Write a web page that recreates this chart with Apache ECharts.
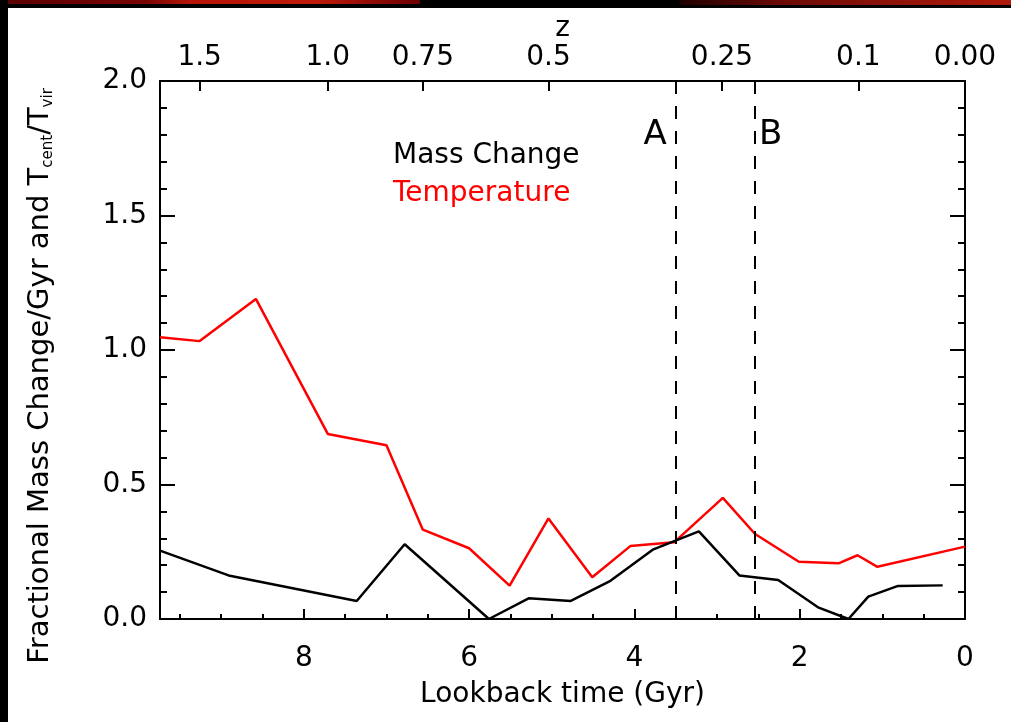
<!DOCTYPE html>
<html>
<head>
<meta charset="utf-8">
<script src="https://cdn.jsdelivr.net/npm/echarts@6/dist/echarts.min.js"></script>
<style>html,body{margin:0;padding:0;background:#fff;}#c{width:1011px;height:722px;}</style>
</head>
<body>
<div id="c"></div>
<script>
// Lookback time (Gyr) and values
const massTime = [9.74, 8.91, 7.36, 6.78, 5.76, 5.28, 4.77, 4.29, 3.77, 3.22, 2.73, 2.26, 1.77, 1.41, 1.17, 0.81, 0.27];
const massVal  = [0.254, 0.162, 0.067, 0.278, 0.0, 0.077, 0.067, 0.142, 0.259, 0.326, 0.162, 0.145, 0.042, 0.0, 0.083, 0.123, 0.125];
const tempTime = [9.74, 9.26, 8.58, 7.71, 7.00, 6.56, 6.00, 5.51, 5.04, 4.51, 4.05, 3.52, 2.93, 2.54, 2.01, 1.53, 1.30, 1.06, 0];
const tempVal  = [1.047, 1.033, 1.19, 0.688, 0.646, 0.332, 0.263, 0.124, 0.374, 0.155, 0.271, 0.285, 0.450, 0.316, 0.213, 0.207, 0.237, 0.194, 0.269];
// Top redshift axis
const zLabels   = ['1.5', '1.0', '0.75', '0.5', '0.25', '0.1', '0.00'];
const zLookback = [9.26, 7.71, 6.56, 5.04, 2.94, 1.29, 0];
// Bottom ticks
const xTicks = [0, 2, 4, 6, 8];
const xMax = 9.74;
// Epoch markers
const markerNames = ['A', 'B'];
const markerTimes = [3.50, 2.54];
const markerLabelY = 1.80;

const FONT = 'DejaVu Sans';
const chart = echarts.init(document.getElementById('c'), null, {renderer: 'canvas'});

const axisLine = {show: true, onZero: false, lineStyle: {color: '#000', width: 2}};

const option = {
  animation: false,
  backgroundColor: '#fff',
  grid: {left: 160, right: 46, top: 81, bottom: 103, containLabel: false},
  legend: {
    orient: 'vertical', left: 383, top: 136, itemWidth: 0, itemHeight: 0, itemGap: 8,
    icon: 'rect', selectedMode: false,
    textStyle: {fontFamily: FONT, fontSize: 28, lineHeight: 30},
    data: [
      {name: 'Mass Change', textStyle: {color: '#000'}},
      {name: 'Temperature', textStyle: {color: '#ff0000'}}
    ]
  },
  xAxis: [
    {
      type: 'value', position: 'bottom', min: 0, max: xMax, interval: 2, inverse: true,
      name: 'Lookback time (Gyr)', nameLocation: 'middle', nameGap: 62,
      nameTextStyle: {fontFamily: FONT, fontSize: 28, color: '#000'},
      axisLine: axisLine,
      axisTick: {show: true, inside: true, length: 10, lineStyle: {color: '#000', width: 2}, customValues: xTicks},
      minorTick: {show: true, splitNumber: 4, length: 5, lineStyle: {color: '#000', width: 2}},
      axisLabel: {fontFamily: FONT, fontSize: 28, color: '#000', margin: 26, customValues: xTicks,
        formatter: v => String(v)},
      splitLine: {show: false}
    },
    {
      type: 'value', position: 'top', min: 0, max: xMax, inverse: true,
      name: 'z', nameLocation: 'middle', nameGap: 38, nameMoveOverlap: false,
      nameTextStyle: {fontFamily: FONT, fontSize: 28, color: '#000'},
      axisLine: axisLine,
      axisTick: {show: true, inside: true, length: 10, lineStyle: {color: '#000', width: 2}, customValues: zLookback},
      axisLabel: {fontFamily: FONT, fontSize: 28, color: '#000', margin: 9, customValues: zLookback,
        formatter: v => {
          const i = zLookback.findIndex(t => Math.abs(t - v) < 1e-6);
          return i >= 0 ? zLabels[i] : '';
        }},
      splitLine: {show: false}
    }
  ],
  yAxis: [
    {
      type: 'value', position: 'left', min: 0, max: 2, interval: 0.5,
      axisLine: axisLine,
      axisTick: {show: true, inside: true, length: 15, lineStyle: {color: '#000', width: 2}},
      minorTick: {show: true, splitNumber: 5, length: 7, lineStyle: {color: '#000', width: 2}},
      axisLabel: {fontFamily: FONT, fontSize: 28, color: '#000', margin: 13, formatter: v => v.toFixed(1)},
      splitLine: {show: false}
    },
    {
      type: 'value', position: 'right', min: 0, max: 2, interval: 0.5,
      axisLine: axisLine,
      axisTick: {show: true, inside: true, length: 15, lineStyle: {color: '#000', width: 2}},
      minorTick: {show: true, splitNumber: 5, length: 7, lineStyle: {color: '#000', width: 2}},
      axisLabel: {show: false},
      splitLine: {show: false}
    }
  ],
  series: [
    {
      name: 'Temperature', type: 'line', xAxisIndex: 0, yAxisIndex: 0,
      data: tempTime.map((t, i) => [t, tempVal[i]]),
      showSymbol: false, symbol: 'none', smooth: false,
      lineStyle: {color: '#ff0000', width: 2.5}, itemStyle: {color: '#ff0000'}
    },
    {
      name: 'Mass Change', type: 'line', xAxisIndex: 0, yAxisIndex: 0,
      data: massTime.map((t, i) => [t, massVal[i]]),
      showSymbol: false, symbol: 'none', smooth: false,
      lineStyle: {color: '#000', width: 2.5}, itemStyle: {color: '#000'},
      markLine: {
        silent: true, symbol: ['none', 'none'], label: {show: false},
        lineStyle: {type: [13, 12], color: '#000', width: 2},
        data: markerTimes.map(t => ({xAxis: t}))
      }
    },
    {
      name: 'markers', type: 'scatter', xAxisIndex: 0, yAxisIndex: 0,
      symbolSize: 0, silent: true,
      itemStyle: {color: '#000', opacity: 1},
      label: {show: true, color: '#000', fontFamily: FONT, fontSize: 34},
      data: markerTimes.map((t, i) => ({
        value: [t, markerLabelY],
        label: {show: true, formatter: markerNames[i], position: i === 0 ? 'left' : 'right', distance: i === 0 ? 9 : 4,
          fontFamily: FONT, fontSize: 34, color: '#000', opacity: 1}
      }))
    }
  ],
  graphic: [
    {type: 'rect', shape: {x: 0, y: 0, width: 1011, height: 8}, style: {fill: '#000'}, silent: true},
    {type: 'rect', shape: {x: 0, y: 0, width: 420, height: 4}, silent: true,
      style: {fill: new echarts.graphic.LinearGradient(0, 0, 1, 0, [
        {offset: 0, color: '#5a0000'}, {offset: 0.35, color: '#7a0505'}, {offset: 0.45, color: '#b51508'},
        {offset: 0.75, color: '#c01a0a'}, {offset: 1, color: '#6a0000'}])}},
    {type: 'rect', shape: {x: 680, y: 0, width: 331, height: 5}, silent: true,
      style: {fill: new echarts.graphic.LinearGradient(0, 0, 1, 0, [
        {offset: 0, color: '#200000'}, {offset: 0.3, color: '#6a0a05'}, {offset: 0.6, color: '#8a1208'},
        {offset: 1, color: '#b01a0a'}])}},
    {type: 'rect', shape: {x: 0, y: 0, width: 8, height: 722}, style: {fill: '#000'}, silent: true},
    {
      type: 'text', x: 40, y: 376, rotation: Math.PI / 2, silent: true,
      style: {
        text: '{n|Fractional Mass Change/Gyr and T}{s|cent}{n|/T}{s|vir}',
        align: 'center', verticalAlign: 'middle', fill: '#000',
        rich: {
          n: {fontFamily: FONT, fontSize: 29, lineHeight: 32, fill: '#000', verticalAlign: 'middle'},
          s: {fontFamily: FONT, fontSize: 15, lineHeight: 32, fill: '#000', verticalAlign: 'bottom'}
        }
      }
    }
  ]
};
chart.setOption(option);
</script>
</body>
</html>
